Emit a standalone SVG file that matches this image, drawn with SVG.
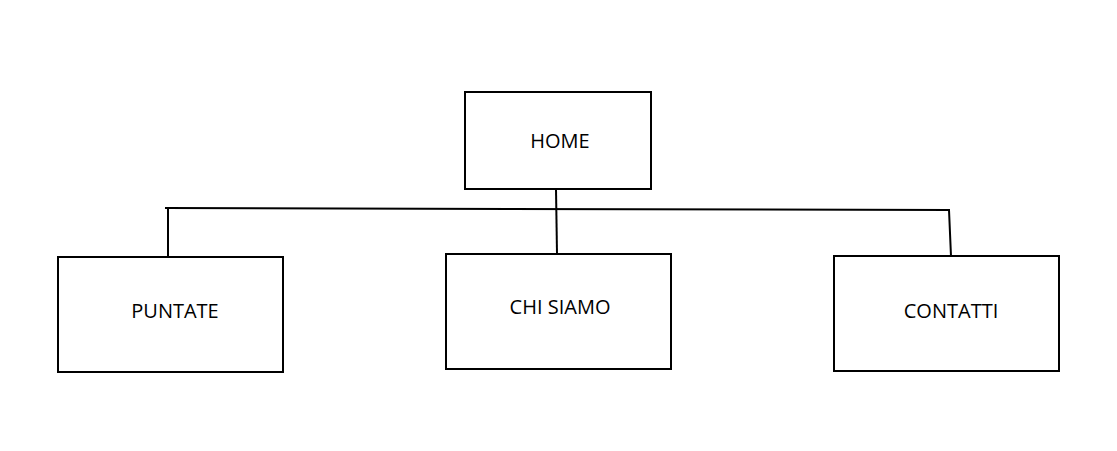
<svg xmlns="http://www.w3.org/2000/svg" width="1117" height="451" viewBox="0 0 1117 451">
<style>
.box{fill:#fff;stroke:#000;stroke-width:2}
.lbl{font-family:"Open Sans","Liberation Sans",sans-serif;font-size:20px;fill:#000;text-anchor:middle;dominant-baseline:central}
.conn{fill:none;stroke:#000;stroke-width:2}
</style>
<rect width="1117" height="451" fill="#fff"/>
<g id="connectors">
<path class="conn" d="M556 189 L557 254"/>
<path class="conn" d="M165 208 L949 210 L951 256"/>
<path class="conn" d="M168 208 L168 257"/>
</g>
<g id="home"><rect class="box" x="465" y="92" width="186" height="97"/><text class="lbl" x="560" y="140">HOME</text></g>
<g id="puntate"><rect class="box" x="58" y="257" width="225" height="115"/><text class="lbl" x="175" y="310">PUNTATE</text></g>
<g id="chisiamo"><rect class="box" x="446" y="254" width="225" height="115"/><text class="lbl" x="560" y="306">CHI SIAMO</text></g>
<g id="contatti"><rect class="box" x="834" y="256" width="225" height="115"/><text class="lbl" x="951" y="310">CONTATTI</text></g>
</svg>
